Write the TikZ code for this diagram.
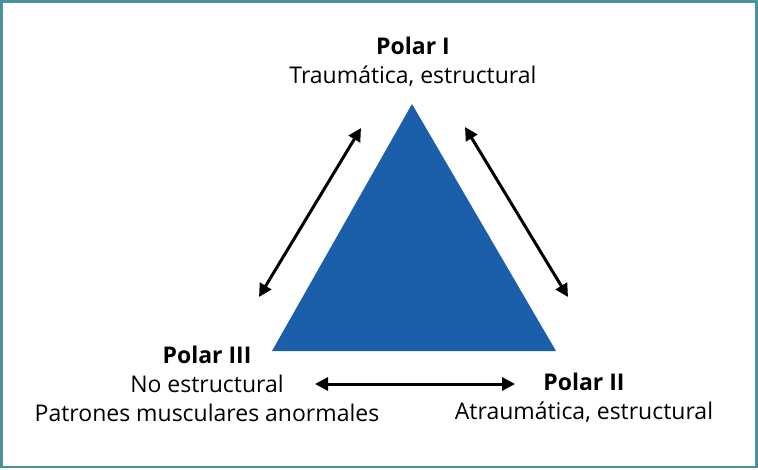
\documentclass[tikz,border=0pt]{standalone}
\usepackage{fontspec}
\setmainfont{Open Sans}
\usetikzlibrary{arrows.meta}
\definecolor{framecol}{HTML}{4A929C}
\definecolor{polblue}{HTML}{1B5EA9}

\begin{document}
\begin{tikzpicture}[x=1pt,y=-1pt,
    lbl/.style={align=center,font=\fontsize{23}{29}\selectfont,inner sep=0pt},
    dbl/.style={{Triangle[length=13pt,width=13pt]}-{Triangle[length=13pt,width=13pt]},line width=3pt}]
        \useasboundingbox (0,0) rectangle (758,469);
        \draw[framecol,line width=2.5pt] (1.5,1.5) rectangle (756.5,467);
        % triangle
        \fill[polblue] (412,104) coordinate (top) -- (556,351) coordinate (right)
            -- (272,351) coordinate (left) -- cycle;
        % labels
        \node[lbl] (p1) at (413,62) {\textbf{Polar I}\\Traumática, estructural};
        \node[lbl] (p3) at (207,384) {\textbf{Polar III}\\No estructural\\Patrones musculares anormales};
        \node[lbl] (p2) at (584,398) {\textbf{Polar II}\\Atraumática, estructural};
        % arrows
        \coordinate (a1) at (361,128);
        \coordinate (a2) at (259,297);
        \coordinate (b1) at (465,127);
        \coordinate (b2) at (568,297);
        \coordinate (c1) at (315,384);
        \coordinate (c2) at (515,384);
        \draw[dbl] (a1) -- (a2);
        \draw[dbl] (b1) -- (b2);
        \draw[dbl] (c1) -- (c2);
    \end{tikzpicture}
\end{document}
